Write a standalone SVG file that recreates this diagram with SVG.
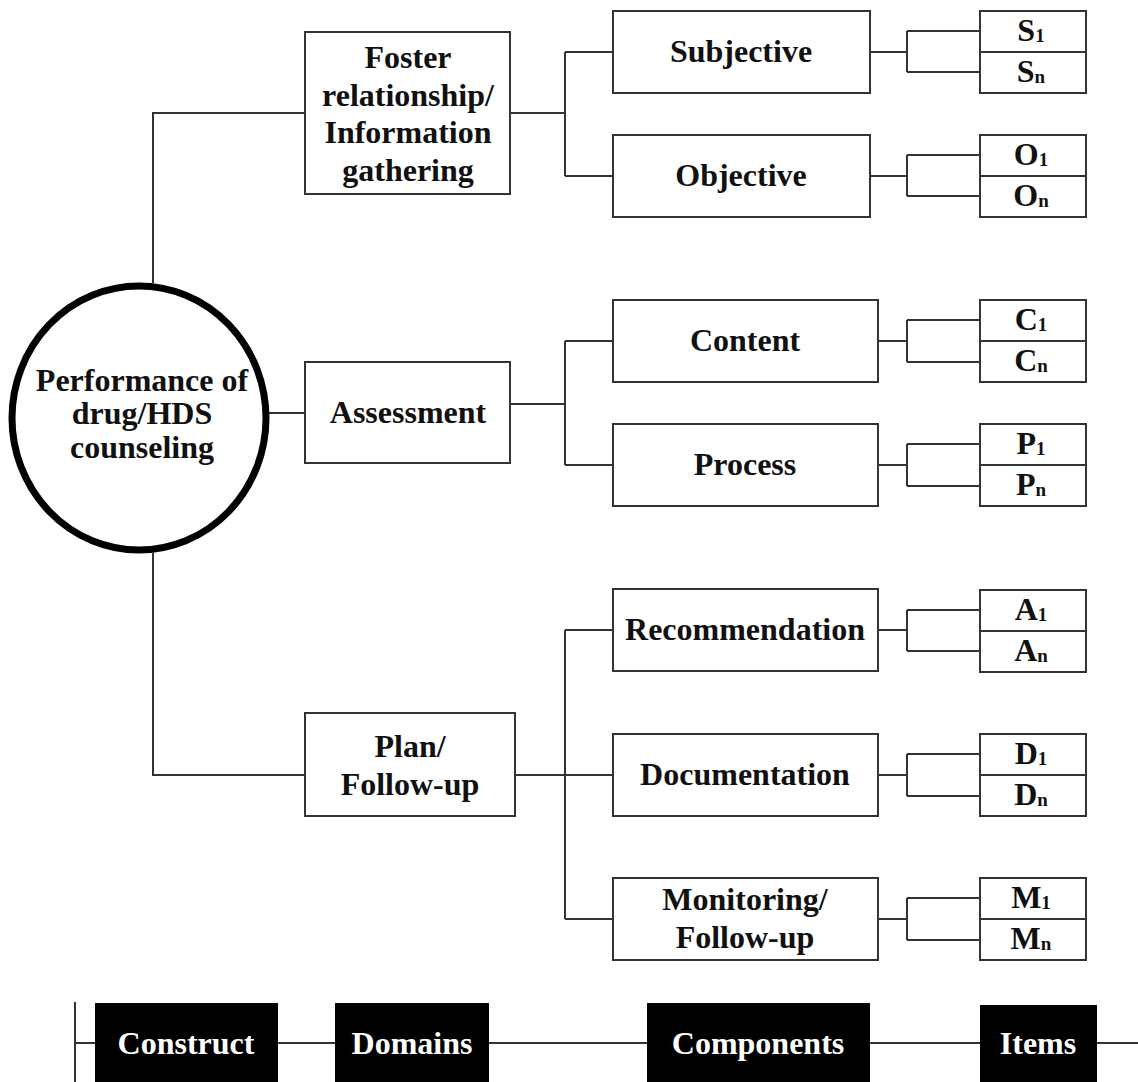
<svg xmlns="http://www.w3.org/2000/svg" width="1138" height="1082" viewBox="0 0 1138 1082">
<style>
.box{fill:#fff;stroke:#333;stroke-width:2}
.ln{fill:none;stroke:#333;stroke-width:2}
.t{font-family:"Liberation Serif","Times New Roman",serif;font-weight:bold;font-size:32px;fill:#111;text-anchor:middle;dominant-baseline:central}
.sub{font-size:19px}
.lg{fill:#000}
.lt{font-family:"Liberation Serif","Times New Roman",serif;font-weight:bold;font-size:32px;fill:#fff;text-anchor:middle;dominant-baseline:central}
</style>
<rect width="1138" height="1082" fill="#fff"/>
<g id="connectors">
<path class="ln" d="M153,283 V113 H305"/>
<path class="ln" d="M153,553 V775 H305"/>
<path class="ln" d="M268,413 H305"/>
<path class="ln" d="M510,113 H565 M565,52 V176 M565,52 H613 M565,176 H613"/>
<path class="ln" d="M510,404 H565 M565,341 V465 M565,341 H613 M565,465 H613"/>
<path class="ln" d="M515,775 H565 M565,630 V919 M565,630 H613 M565,775 H613 M565,919 H613"/>
<path class="ln" d="M870,52 H907 M907,31 V72 M907,31 H980 M907,72 H980"/>
<path class="ln" d="M870,176 H907 M907,155 V196 M907,155 H980 M907,196 H980"/>
<path class="ln" d="M878,341 H907 M907,320 V362 M907,320 H980 M907,362 H980"/>
<path class="ln" d="M878,465 H907 M907,444 V486 M907,444 H980 M907,486 H980"/>
<path class="ln" d="M878,630 H907 M907,610 V651 M907,610 H980 M907,651 H980"/>
<path class="ln" d="M878,775 H907 M907,754 V796 M907,754 H980 M907,796 H980"/>
<path class="ln" d="M878,919 H907 M907,898 V940 M907,898 H980 M907,940 H980"/>
</g>
<g id="construct">
<ellipse cx="139" cy="418" rx="127" ry="132" fill="#fff" stroke="#000" stroke-width="7"/>
<text class="t" x="142" y="380">Performance of</text>
<text class="t" x="142" y="413">drug/HDS</text>
<text class="t" x="142" y="447">counseling</text>
</g>
<g id="domain-foster">
<rect class="box" x="305" y="32" width="205" height="162"/>
<text class="t" x="408" y="57">Foster</text>
<text class="t" x="408" y="95">relationship/</text>
<text class="t" x="408" y="132">Information</text>
<text class="t" x="408" y="170">gathering</text>
</g>
<g id="domain-assessment">
<rect class="box" x="305" y="362" width="205" height="101"/>
<text class="t" x="408" y="412">Assessment</text>
</g>
<g id="domain-plan">
<rect class="box" x="305" y="713" width="210" height="103"/>
<text class="t" x="410" y="746">Plan/</text>
<text class="t" x="410" y="784">Follow-up</text>
</g>
<g id="comp-subjective">
<rect class="box" x="613" y="11" width="257" height="82"/>
<text class="t" x="741" y="51">Subjective</text>
</g>
<g id="comp-objective">
<rect class="box" x="613" y="135" width="257" height="82"/>
<text class="t" x="741" y="175">Objective</text>
</g>
<g id="comp-content">
<rect class="box" x="613" y="300" width="265" height="82"/>
<text class="t" x="745" y="340">Content</text>
</g>
<g id="comp-process">
<rect class="box" x="613" y="424" width="265" height="82"/>
<text class="t" x="745" y="464">Process</text>
</g>
<g id="comp-recommendation">
<rect class="box" x="613" y="589" width="265" height="82"/>
<text class="t" x="745" y="629">Recommendation</text>
</g>
<g id="comp-documentation">
<rect class="box" x="613" y="734" width="265" height="82"/>
<text class="t" x="745" y="774">Documentation</text>
</g>
<g id="comp-monitoring">
<rect class="box" x="613" y="878" width="265" height="82"/>
<text class="t" x="745" y="899">Monitoring/</text>
<text class="t" x="745" y="937">Follow-up</text>
</g>
<g id="items-s">
<rect class="box" x="980" y="11" width="106" height="82"/>
<line class="ln" x1="980" y1="52" x2="1086" y2="52"/>
<text class="t" x="1031" y="30">S<tspan class="sub" dy="5">1</tspan></text>
<text class="t" x="1031" y="71">S<tspan class="sub" dy="5">n</tspan></text>
</g>
<g id="items-o">
<rect class="box" x="980" y="135" width="106" height="82"/>
<line class="ln" x1="980" y1="176" x2="1086" y2="176"/>
<text class="t" x="1031" y="154">O<tspan class="sub" dy="5">1</tspan></text>
<text class="t" x="1031" y="195">O<tspan class="sub" dy="5">n</tspan></text>
</g>
<g id="items-c">
<rect class="box" x="980" y="300" width="106" height="82"/>
<line class="ln" x1="980" y1="341" x2="1086" y2="341"/>
<text class="t" x="1031" y="319">C<tspan class="sub" dy="5">1</tspan></text>
<text class="t" x="1031" y="360">C<tspan class="sub" dy="5">n</tspan></text>
</g>
<g id="items-p">
<rect class="box" x="980" y="424" width="106" height="82"/>
<line class="ln" x1="980" y1="465" x2="1086" y2="465"/>
<text class="t" x="1031" y="443">P<tspan class="sub" dy="5">1</tspan></text>
<text class="t" x="1031" y="484">P<tspan class="sub" dy="5">n</tspan></text>
</g>
<g id="items-a">
<rect class="box" x="980" y="590" width="106" height="82"/>
<line class="ln" x1="980" y1="631" x2="1086" y2="631"/>
<text class="t" x="1031" y="609">A<tspan class="sub" dy="5">1</tspan></text>
<text class="t" x="1031" y="650">A<tspan class="sub" dy="5">n</tspan></text>
</g>
<g id="items-d">
<rect class="box" x="980" y="734" width="106" height="82"/>
<line class="ln" x1="980" y1="775" x2="1086" y2="775"/>
<text class="t" x="1031" y="753">D<tspan class="sub" dy="5">1</tspan></text>
<text class="t" x="1031" y="794">D<tspan class="sub" dy="5">n</tspan></text>
</g>
<g id="items-m">
<rect class="box" x="980" y="878" width="106" height="82"/>
<line class="ln" x1="980" y1="919" x2="1086" y2="919"/>
<text class="t" x="1031" y="897">M<tspan class="sub" dy="5">1</tspan></text>
<text class="t" x="1031" y="938">M<tspan class="sub" dy="5">n</tspan></text>
</g>
<g id="legend">
<path class="ln" d="M75,1002 V1082 M75,1043 H1138"/>
<rect class="lg" x="95" y="1003" width="183" height="79"/>
<text class="lt" x="186" y="1043">Construct</text>
<rect class="lg" x="335" y="1003" width="154" height="79"/>
<text class="lt" x="412" y="1043">Domains</text>
<rect class="lg" x="647" y="1003" width="223" height="79"/>
<text class="lt" x="758" y="1043">Components</text>
<rect class="lg" x="980" y="1005" width="117" height="77"/>
<text class="lt" x="1038" y="1043">Items</text>
</g>
</svg>
